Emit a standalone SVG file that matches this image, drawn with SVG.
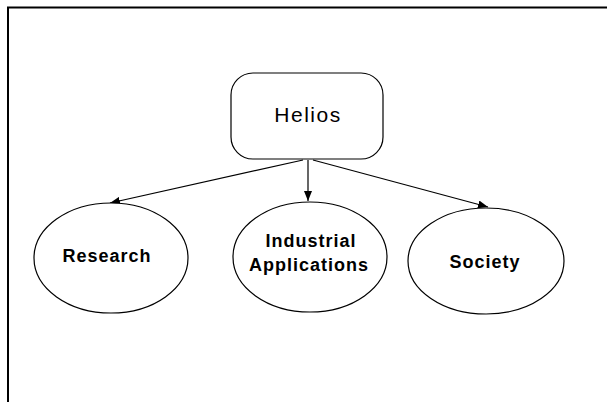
<svg xmlns="http://www.w3.org/2000/svg" width="607" height="402" viewBox="0 0 607 402">
  <style>
    .shape { fill: #ffffff; stroke: #000000; stroke-width: 1.2; }
    .label { font-family: "Liberation Sans", Arial, sans-serif; font-size: 18px; font-weight: bold; letter-spacing: 1px; fill: #000000; text-anchor: middle; }
    .root-label { font-family: "Liberation Sans", Arial, sans-serif; font-size: 21px; letter-spacing: 1.5px; fill: #000000; text-anchor: middle; }
    .edge { stroke: #000000; stroke-width: 1.2; fill: none; marker-end: url(#arrow); }
  </style>
  <defs>
    <marker id="arrow" viewBox="0 0 10 8" refX="10" refY="4" markerWidth="10" markerHeight="8" markerUnits="userSpaceOnUse" orient="auto">
      <path d="M0,0 L10,4 L0,8 Z" fill="#000000"/>
    </marker>
  </defs>
  <rect width="607" height="402" fill="#ffffff"/>

  <!-- frame -->
  <path d="M8,402 L8,7.5 L607,7.5" fill="none" stroke="#000000" stroke-width="2"/>

  <g id="connectors">
    <line class="edge" x1="303" y1="160" x2="110" y2="203"/>
    <line class="edge" x1="308" y1="160" x2="308" y2="201"/>
    <line class="edge" x1="313" y1="160" x2="488" y2="207"/>
  </g>

  <g id="helios">
    <rect class="shape" x="231" y="73" width="152" height="86" rx="22" ry="22"/>
    <text class="root-label" x="308" y="122">Helios</text>
  </g>

  <g id="research">
    <ellipse class="shape" cx="111" cy="258" rx="77" ry="55"/>
    <text class="label" x="107" y="262">Research</text>
  </g>

  <g id="industrial-applications">
    <ellipse class="shape" cx="310" cy="257" rx="77" ry="55"/>
    <text class="label" x="311" y="247">Industrial</text>
    <text class="label" x="309" y="271">Applications</text>
  </g>

  <g id="society">
    <ellipse class="shape" cx="486" cy="261" rx="78" ry="53"/>
    <text class="label" x="485" y="268">Society</text>
  </g>
</svg>
